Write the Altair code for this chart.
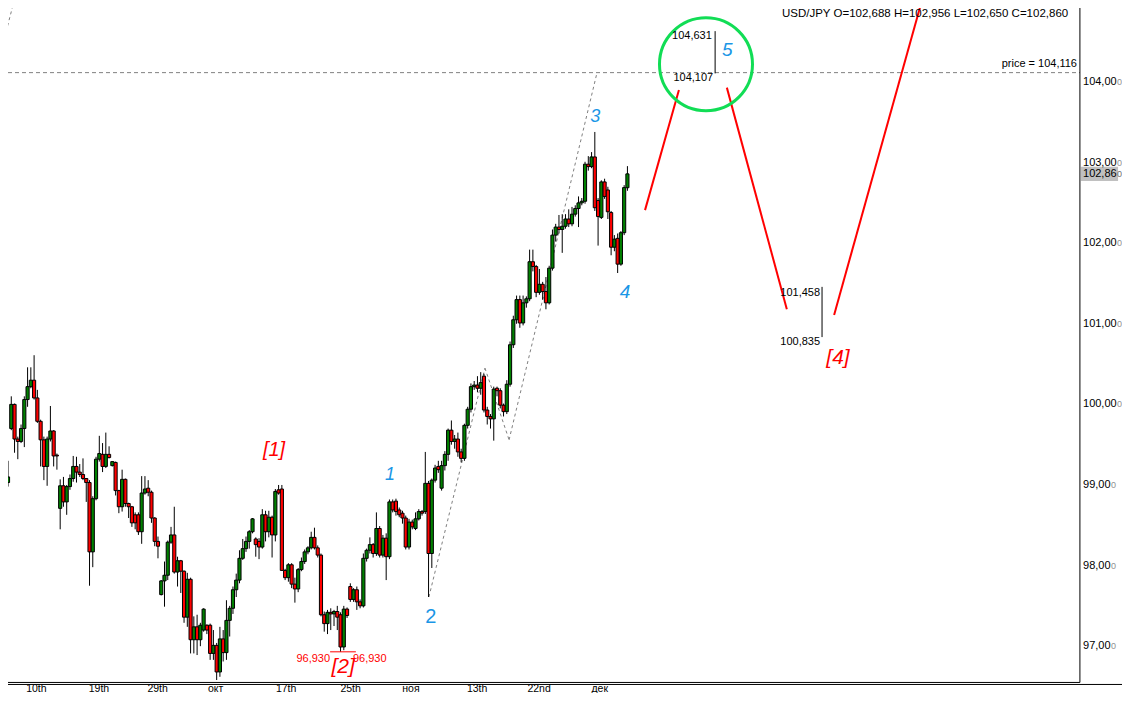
import altair as alt
import pandas as pd

# ---------------- data ----------------
opens = [100.12, 99.56, 99.03, 99.70, 100.00, 99.57, 99.54, 99.70, 100.06, 100.22,
         100.30, 100.08, 99.79, 99.56, 99.23, 99.57, 99.67, 99.37, 98.71, 98.99,
         98.79, 98.98, 99.08, 99.23, 99.16, 99.13, 99.08, 99.03, 98.17, 98.83,
         99.32, 99.38, 99.23, 99.38, 99.24, 99.28, 98.93, 98.73, 99.07, 98.77,
         98.73, 98.63, 98.63, 98.42, 98.90, 98.96, 98.91, 98.59, 98.30, 97.64,
         97.81, 97.88, 98.29, 98.38, 97.92, 98.06, 97.93, 97.36, 97.83, 97.08,
         97.24, 97.08, 97.20, 97.26, 97.26, 96.91, 97.01, 96.68, 97.09, 96.92,
         97.32, 97.47, 97.70, 97.82, 98.09, 98.21, 98.30, 98.42, 98.33, 98.30,
         98.23, 98.63, 98.42, 98.60, 98.38, 98.94, 98.95, 97.94, 97.85, 98.01,
         97.77, 97.71, 97.95, 98.05, 98.17, 98.22, 98.35, 98.22, 98.13, 97.39,
         97.28, 97.42, 97.40, 97.43, 97.39, 96.99, 97.46, 97.74, 97.58, 97.70,
         97.55, 97.50, 98.09, 98.19, 98.26, 98.15, 98.46, 98.13, 98.34, 98.11,
         98.79, 98.80, 98.69, 98.65, 98.59, 98.23, 98.54, 98.46, 98.58, 98.67,
         98.67, 99.02, 98.15, 99.06, 99.23, 98.96, 99.24, 99.38, 99.68, 99.54,
         99.57, 99.41, 99.33, 99.74, 99.94, 100.22, 100.24, 100.20, 100.35, 99.93,
         99.85, 99.82, 100.20, 100.17, 99.99, 99.91, 100.25, 100.74, 101.05, 101.30,
         101.01, 101.26, 101.31, 101.77, 101.71, 101.39, 101.49, 101.40, 101.26, 101.69,
         102.10, 102.20, 102.17, 102.21, 102.30, 102.24, 102.36, 102.43, 102.50, 102.52,
         102.98, 102.95, 103.07, 102.53, 102.32, 102.76, 102.66, 102.38, 101.95, 102.06,
         101.74, 102.13, 102.688]
highs = [100.14, 99.88, 99.30, 100.10, 100.01, 99.60, 99.75, 100.10, 100.46, 100.46,
         100.61, 100.18, 99.81, 99.60, 99.60, 99.98, 99.68, 99.39, 99.07, 99.10,
         99.00, 99.13, 99.36, 99.35, 99.26, 99.33, 99.08, 99.06, 98.86, 99.35,
         99.61, 99.52, 99.65, 99.48, 99.29, 99.29, 98.94, 99.19, 99.08, 98.78,
         98.74, 98.66, 98.66, 99.11, 99.11, 99.06, 98.93, 98.60, 98.36, 97.82,
         98.05, 98.31, 98.48, 98.73, 98.11, 98.07, 97.94, 97.91, 97.85, 97.37,
         97.39, 97.29, 97.47, 97.27, 97.28, 97.20, 97.04, 97.24, 97.20, 97.57,
         97.50, 97.74, 97.90, 98.19, 98.33, 98.36, 98.44, 98.59, 98.35, 98.34,
         98.70, 98.68, 98.68, 98.62, 98.95, 99.00, 99.00, 97.96, 98.03, 98.03,
         97.85, 97.97, 98.10, 98.20, 98.24, 98.42, 98.47, 98.25, 98.15, 97.43,
         97.45, 97.47, 97.45, 97.50, 97.42, 97.50, 97.48, 97.78, 97.72, 97.74,
         97.58, 98.15, 98.21, 98.35, 98.28, 98.66, 98.49, 98.38, 98.40, 98.82,
         98.82, 98.83, 98.72, 98.68, 98.62, 98.58, 98.57, 98.66, 98.70, 98.69,
         99.41, 99.05, 99.08, 99.25, 99.30, 99.30, 99.42, 99.70, 99.80, 99.62,
         99.65, 99.45, 99.76, 99.97, 100.26, 100.29, 100.35, 100.40, 100.38, 99.97,
         99.88, 100.22, 100.22, 100.20, 100.01, 100.30, 100.78, 101.10, 101.35, 101.35,
         101.35, 101.34, 101.92, 101.92, 101.73, 101.68, 101.52, 101.58, 101.72, 102.17,
         102.24, 102.35, 102.36, 102.36, 102.42, 102.45, 102.47, 102.58, 102.56, 103.01,
         103.08, 103.13, 103.38, 102.56, 102.78, 102.80, 102.70, 102.40, 102.10, 102.12,
         102.15, 102.72, 102.956]
lows = [99.54, 98.53, 98.98, 99.68, 99.40, 99.32, 99.52, 99.47, 99.97, 100.20,
        100.06, 99.77, 99.23, 99.06, 98.99, 99.54, 99.23, 99.19, 98.45, 98.73,
        98.63, 98.94, 99.04, 99.03, 99.10, 99.06, 98.79, 97.75, 97.98, 98.81,
        99.29, 99.16, 99.21, 99.33, 99.23, 98.87, 98.65, 98.67, 98.73, 98.59,
        98.48, 98.45, 98.38, 98.27, 98.88, 98.86, 98.53, 98.24, 98.09, 97.63,
        97.49, 97.82, 98.27, 97.90, 97.74, 97.66, 97.29, 97.24, 96.91, 96.91,
        96.89, 97.00, 97.18, 97.15, 96.83, 96.83, 96.58, 96.62, 96.81, 96.83,
        97.12, 97.40, 97.61, 97.78, 98.07, 98.17, 98.21, 98.40, 98.11, 98.08,
        98.21, 98.30, 98.35, 98.10, 98.30, 98.88, 97.94, 97.82, 97.80, 97.72,
        97.54, 97.67, 97.93, 98.02, 98.14, 98.20, 98.20, 98.10, 97.37, 97.18,
        97.15, 97.20, 97.25, 97.20, 96.93, 96.95, 97.35, 97.55, 97.55, 97.45,
        97.47, 97.48, 98.05, 98.15, 98.10, 98.12, 98.10, 98.10, 97.82, 98.08,
        98.66, 98.62, 98.60, 98.52, 98.20, 98.20, 98.45, 98.44, 98.56, 98.62,
        98.64, 97.61, 97.97, 99.03, 99.15, 98.93, 99.18, 99.30, 99.50, 99.45,
        99.35, 99.28, 99.30, 99.70, 99.90, 100.18, 100.15, 100.12, 99.90, 99.75,
        99.70, 99.55, 100.10, 99.95, 99.85, 99.88, 100.22, 100.70, 101.00, 100.95,
        100.98, 101.20, 101.28, 101.65, 101.33, 101.36, 101.30, 101.18, 101.24, 101.66,
        102.02, 102.12, 101.88, 102.18, 102.20, 102.21, 102.33, 102.20, 102.47, 102.49,
        102.90, 102.93, 102.40, 101.97, 102.30, 102.55, 102.30, 101.85, 101.90, 101.63,
        101.72, 102.10, 102.650]
closes = [99.56, 99.03, 99.10, 100.00, 99.57, 99.54, 99.70, 100.06, 100.22, 100.30,
          100.08, 99.79, 99.56, 99.23, 99.57, 99.67, 99.36, 99.36, 98.99, 98.79,
          98.98, 99.08, 99.23, 99.16, 99.13, 99.08, 99.03, 98.17, 98.83, 99.32,
          99.39, 99.23, 99.38, 99.34, 99.29, 98.93, 98.73, 99.07, 98.77, 98.73,
          98.53, 98.53, 98.42, 98.90, 98.95, 98.91, 98.59, 98.30, 98.24, 97.81,
          97.88, 98.29, 98.38, 97.92, 98.06, 97.93, 97.36, 97.83, 97.08, 97.24,
          97.08, 97.26, 97.46, 97.20, 96.91, 97.01, 96.68, 97.09, 96.92, 97.32,
          97.47, 97.70, 97.82, 98.09, 98.21, 98.30, 98.42, 98.58, 98.26, 98.23,
          98.63, 98.42, 98.60, 98.38, 98.92, 98.90, 97.94, 97.85, 98.01, 97.77,
          97.71, 97.95, 98.05, 98.17, 98.22, 98.35, 98.22, 98.13, 97.39, 97.28,
          97.42, 97.40, 97.43, 97.36, 96.99, 97.46, 97.38, 97.58, 97.70, 97.55,
          97.50, 98.09, 98.19, 98.26, 98.15, 98.46, 98.13, 98.34, 98.11, 98.79,
          98.69, 98.67, 98.63, 98.59, 98.23, 98.54, 98.48, 98.58, 98.67, 98.65,
          99.02, 98.15, 99.06, 99.21, 99.19, 99.24, 99.38, 99.68, 99.54, 99.57,
          99.41, 99.33, 99.74, 99.94, 100.22, 100.24, 100.20, 100.27, 99.93, 99.85,
          99.82, 100.19, 100.17, 99.99, 99.91, 100.25, 100.74, 101.05, 101.30, 101.01,
          101.26, 101.31, 101.77, 101.71, 101.39, 101.49, 101.40, 101.26, 101.69, 102.10,
          102.20, 102.17, 102.21, 102.30, 102.24, 102.36, 102.43, 102.50, 102.52, 102.98,
          102.95, 103.07, 102.44, 102.33, 102.76, 102.58, 102.39, 101.95, 102.05, 101.74,
          102.13, 102.69, 102.860]

date_labels = ["10th", "19th", "29th", "окт", "17th", "25th", "ноя", "13th", "22nd", "дек"]
date_pos = [10.7, 29.9, 47.9, 65.7, 87.3, 107.1, 125.6, 145.9, 164.9, 183.5]
price_ticks = [97, 98, 99, 100, 101, 102, 103, 104]
price_level = 104.116

# Elliott wave labels
wave_text = ["[1]", "1", "3", "4", "5", "[2]", "[4]"]
wave_x = [83.6, 119.2, 182.1, 191.3, 222.6, 104.8, 256.6]
wave_y = [99.43, 99.12, 103.57, 101.40, 104.40, 96.74, 100.58]
wave_col = ["#ff0000", "#1a96e6", "#1a96e6", "#1a96e6", "#1a96e6", "#ff0000", "#ff0000"]
wave_fs = [20, 18, 18, 19, 19, 21, 21]

# target levels
tgt5 = [104.107, 104.631]
tgt4 = [100.835, 101.458]
low2 = 96.930

# projection (red) and channel (grey dashed) segments
red_x1 = [197.4, 222.5, 255.4]
red_y1 = [102.41, 103.93, 101.11]
red_x2 = [207.8, 240.9, 282.4]
red_y2 = [103.90, 101.18, 105.02]
chan_x = [131.1, 148.3, 155.7, 182.7]
chan_y = [97.61, 100.45, 99.56, 104.12]
# older channel line leaving the top-left corner
old_x = [-0.46, 3.93]
old_y = [104.335, 105.017]

# ---------------- chart geometry ----------------
W, H = 1114, 685
X_DOM = [1.994, 343.71]
Y_DOM = [96.419, 104.918]
X_AXIS = 330.8          # right price axis position (index units)
Y_BOTTOM = 96.550       # bottom axis line (price units)
Y_BOTTOM2 = 96.525
Y_DATES = 96.466
xs = alt.Scale(domain=X_DOM, nice=False, zero=False)
ys = alt.Scale(domain=Y_DOM, nice=False, zero=False)
FONT = "Liberation Sans"


def X(f):
    return alt.X(f, type="quantitative", scale=xs, axis=None)


def Y(f):
    return alt.Y(f, type="quantitative", scale=ys, axis=None)


n = len(opens)
cdf = pd.DataFrame({"i": list(range(n)), "o": opens, "h": highs, "l": lows, "c": closes})
cdf["x0"] = cdf["i"] - 0.48
cdf["x1"] = cdf["i"] + 0.48
cdf["dir"] = ["up" if c >= o else "down" for o, c in zip(opens, closes)]

wicks = alt.Chart(cdf).mark_rule(color="black", strokeWidth=1, clip=True).encode(
    x=X("i"), y=Y("l"), y2="h")
bodies = alt.Chart(cdf).mark_rect(stroke="black", strokeWidth=1, clip=True).encode(
    x=X("x0"), x2="x1", y=Y("o"), y2="c",
    color=alt.Color("dir:N", scale=alt.Scale(domain=["up", "down"], range=["#008000", "#ff0000"]), legend=None))


def seg(df, **kw):
    return alt.Chart(df).mark_rule(clip=True, **kw).encode(x=X("x1"), y=Y("y1"), x2="x2", y2="y2")


frame = pd.DataFrame({
    "x1": [X_AXIS, X_DOM[0], X_DOM[0]],
    "y1": [Y_BOTTOM, Y_BOTTOM, Y_BOTTOM2],
    "x2": [X_AXIS, X_AXIS, X_DOM[1]],
    "y2": [Y_DOM[1], Y_BOTTOM, Y_BOTTOM2],
})
frame_l = seg(frame, color="black", strokeWidth=1)

lvl = seg(pd.DataFrame({"x1": [X_DOM[0]], "x2": [X_AXIS], "y1": [price_level], "y2": [price_level]}),
          color="#808080", strokeWidth=1, strokeDash=[4, 3])

cx = old_x[:1] + chan_x[:-1]
cy = old_y[:1] + chan_y[:-1]
cx2 = old_x[1:] + chan_x[1:]
cy2 = old_y[1:] + chan_y[1:]
chan = seg(pd.DataFrame({"x1": cx, "y1": cy, "x2": cx2, "y2": cy2}),
           color="#808080", strokeWidth=1, strokeDash=[3, 3])

red = seg(pd.DataFrame({"x1": red_x1, "y1": red_y1, "x2": red_x2, "y2": red_y2}),
          color="#ff0000", strokeWidth=2)

tv = seg(pd.DataFrame({"x1": [218.9, 251.7], "x2": [218.9, 251.7],
                       "y1": [tgt5[0], tgt4[0]], "y2": [tgt5[1], tgt4[1]]}), color="black", strokeWidth=1)
low_line = seg(pd.DataFrame({"x1": [100.8], "x2": [108.7], "y1": [low2], "y2": [low2]}),
               color="#ff0000", strokeWidth=1)

circle = alt.Chart(pd.DataFrame({"x": [216.1], "y": [104.22]})).mark_point(
    shape="circle", filled=False, stroke="#11dd55", strokeWidth=3, size=8650, opacity=1).encode(
    x=X("x"), y=Y("y"))


def fmt(v, d=3):
    return f"{v:.{d}f}".replace(".", ",")


def text_layer(df, align, italic=False, **kw):
    return alt.Chart(df).mark_text(align=align, baseline="middle", font=FONT,
                                   fontStyle="italic" if italic else "normal", **kw).encode(
        x=X("x"), y=Y("y"), text="t:N",
        color=alt.Color("col:N", scale=None), size=alt.Size("fs:Q", scale=None))


last = n - 1
info = (f"USD/JPY O={fmt(opens[last])} H={fmt(highs[last])} "
        f"L={fmt(lows[last])} C={fmt(closes[last])}")
right_txt = pd.DataFrame({
    "t": [info, f"price = {fmt(price_level)}", fmt(tgt5[1]), fmt(tgt5[0]), fmt(tgt4[1]), fmt(tgt4[0]), fmt(low2)],
    "x": [327.2, 329.9, 217.9, 218.3, 251.1, 251.1, 100.8],
    "y": [104.845, 104.223, 104.571, 104.05, 101.382, 100.774, 96.841],
    "col": ["black"] * 6 + ["#ff0000"],
    "fs": [11.5, 11, 11, 11, 11, 11, 11],
})
left_txt = pd.DataFrame({"t": [fmt(low2)], "x": [107.8], "y": [96.841], "col": ["#ff0000"], "fs": [11]})

waves = pd.DataFrame({"t": wave_text, "x": wave_x, "y": wave_y, "col": wave_col, "fs": wave_fs})
wave2 = pd.DataFrame({"t": ["2"], "x": [131.7], "y": [97.36], "col": ["#1a96e6"], "fs": [20]})

AX_X = 331.75
big = [p for p in price_ticks if p >= 100]
small = [p for p in price_ticks if p < 100]
ax3 = pd.DataFrame({"t": [f"{p},00" for p in big], "x": AX_X, "y": big, "col": "black", "fs": 11})
ax2 = pd.DataFrame({"t": [f"{p},00" for p in small], "x": AX_X, "y": small, "col": "black", "fs": 11})
z3 = pd.DataFrame({"t": ["0"] * len(big), "x": AX_X, "y": big, "col": "#909090", "fs": 9})
z2 = pd.DataFrame({"t": ["0"] * len(small), "x": AX_X, "y": small, "col": "#909090", "fs": 9})

cur = closes[last]
cur_s = fmt(cur)
hl_box = alt.Chart(pd.DataFrame({"x1": [331.1], "x2": [342.5], "y1": [cur - 0.087], "y2": [cur + 0.087]})).mark_rect(
    color="#c0c0c0").encode(x=X("x1"), x2="x2", y=Y("y1"), y2="y2")
hl_main = pd.DataFrame({"t": [cur_s[:-1]], "x": [AX_X], "y": [cur], "col": ["black"], "fs": [11]})
hl_z = pd.DataFrame({"t": [cur_s[-1]], "x": [AX_X], "y": [cur], "col": ["#707070"], "fs": [9]})

dates = pd.DataFrame({"t": date_labels, "x": date_pos, "y": Y_DATES, "col": "black", "fs": 10.5})

chart = alt.layer(
    hl_box, lvl, chan, wicks, bodies, red, tv, low_line, circle, frame_l,
    text_layer(right_txt, "right"),
    text_layer(left_txt, "left"),
    text_layer(waves, "center", italic=True),
    text_layer(wave2, "center"),
    text_layer(ax3, "left"), text_layer(ax2, "left"),
    text_layer(z3, "left", dx=34), text_layer(z2, "left", dx=28),
    text_layer(hl_main, "left"), text_layer(hl_z, "left", dx=34),
    text_layer(dates, "center"),
).properties(
    width=W, height=H, padding=0, autosize=alt.AutoSizeParams(type="none"),
    background="white",
).configure_view(stroke=None)

chart.save("out.html", embed_options={"renderer": "svg", "actions": False})
